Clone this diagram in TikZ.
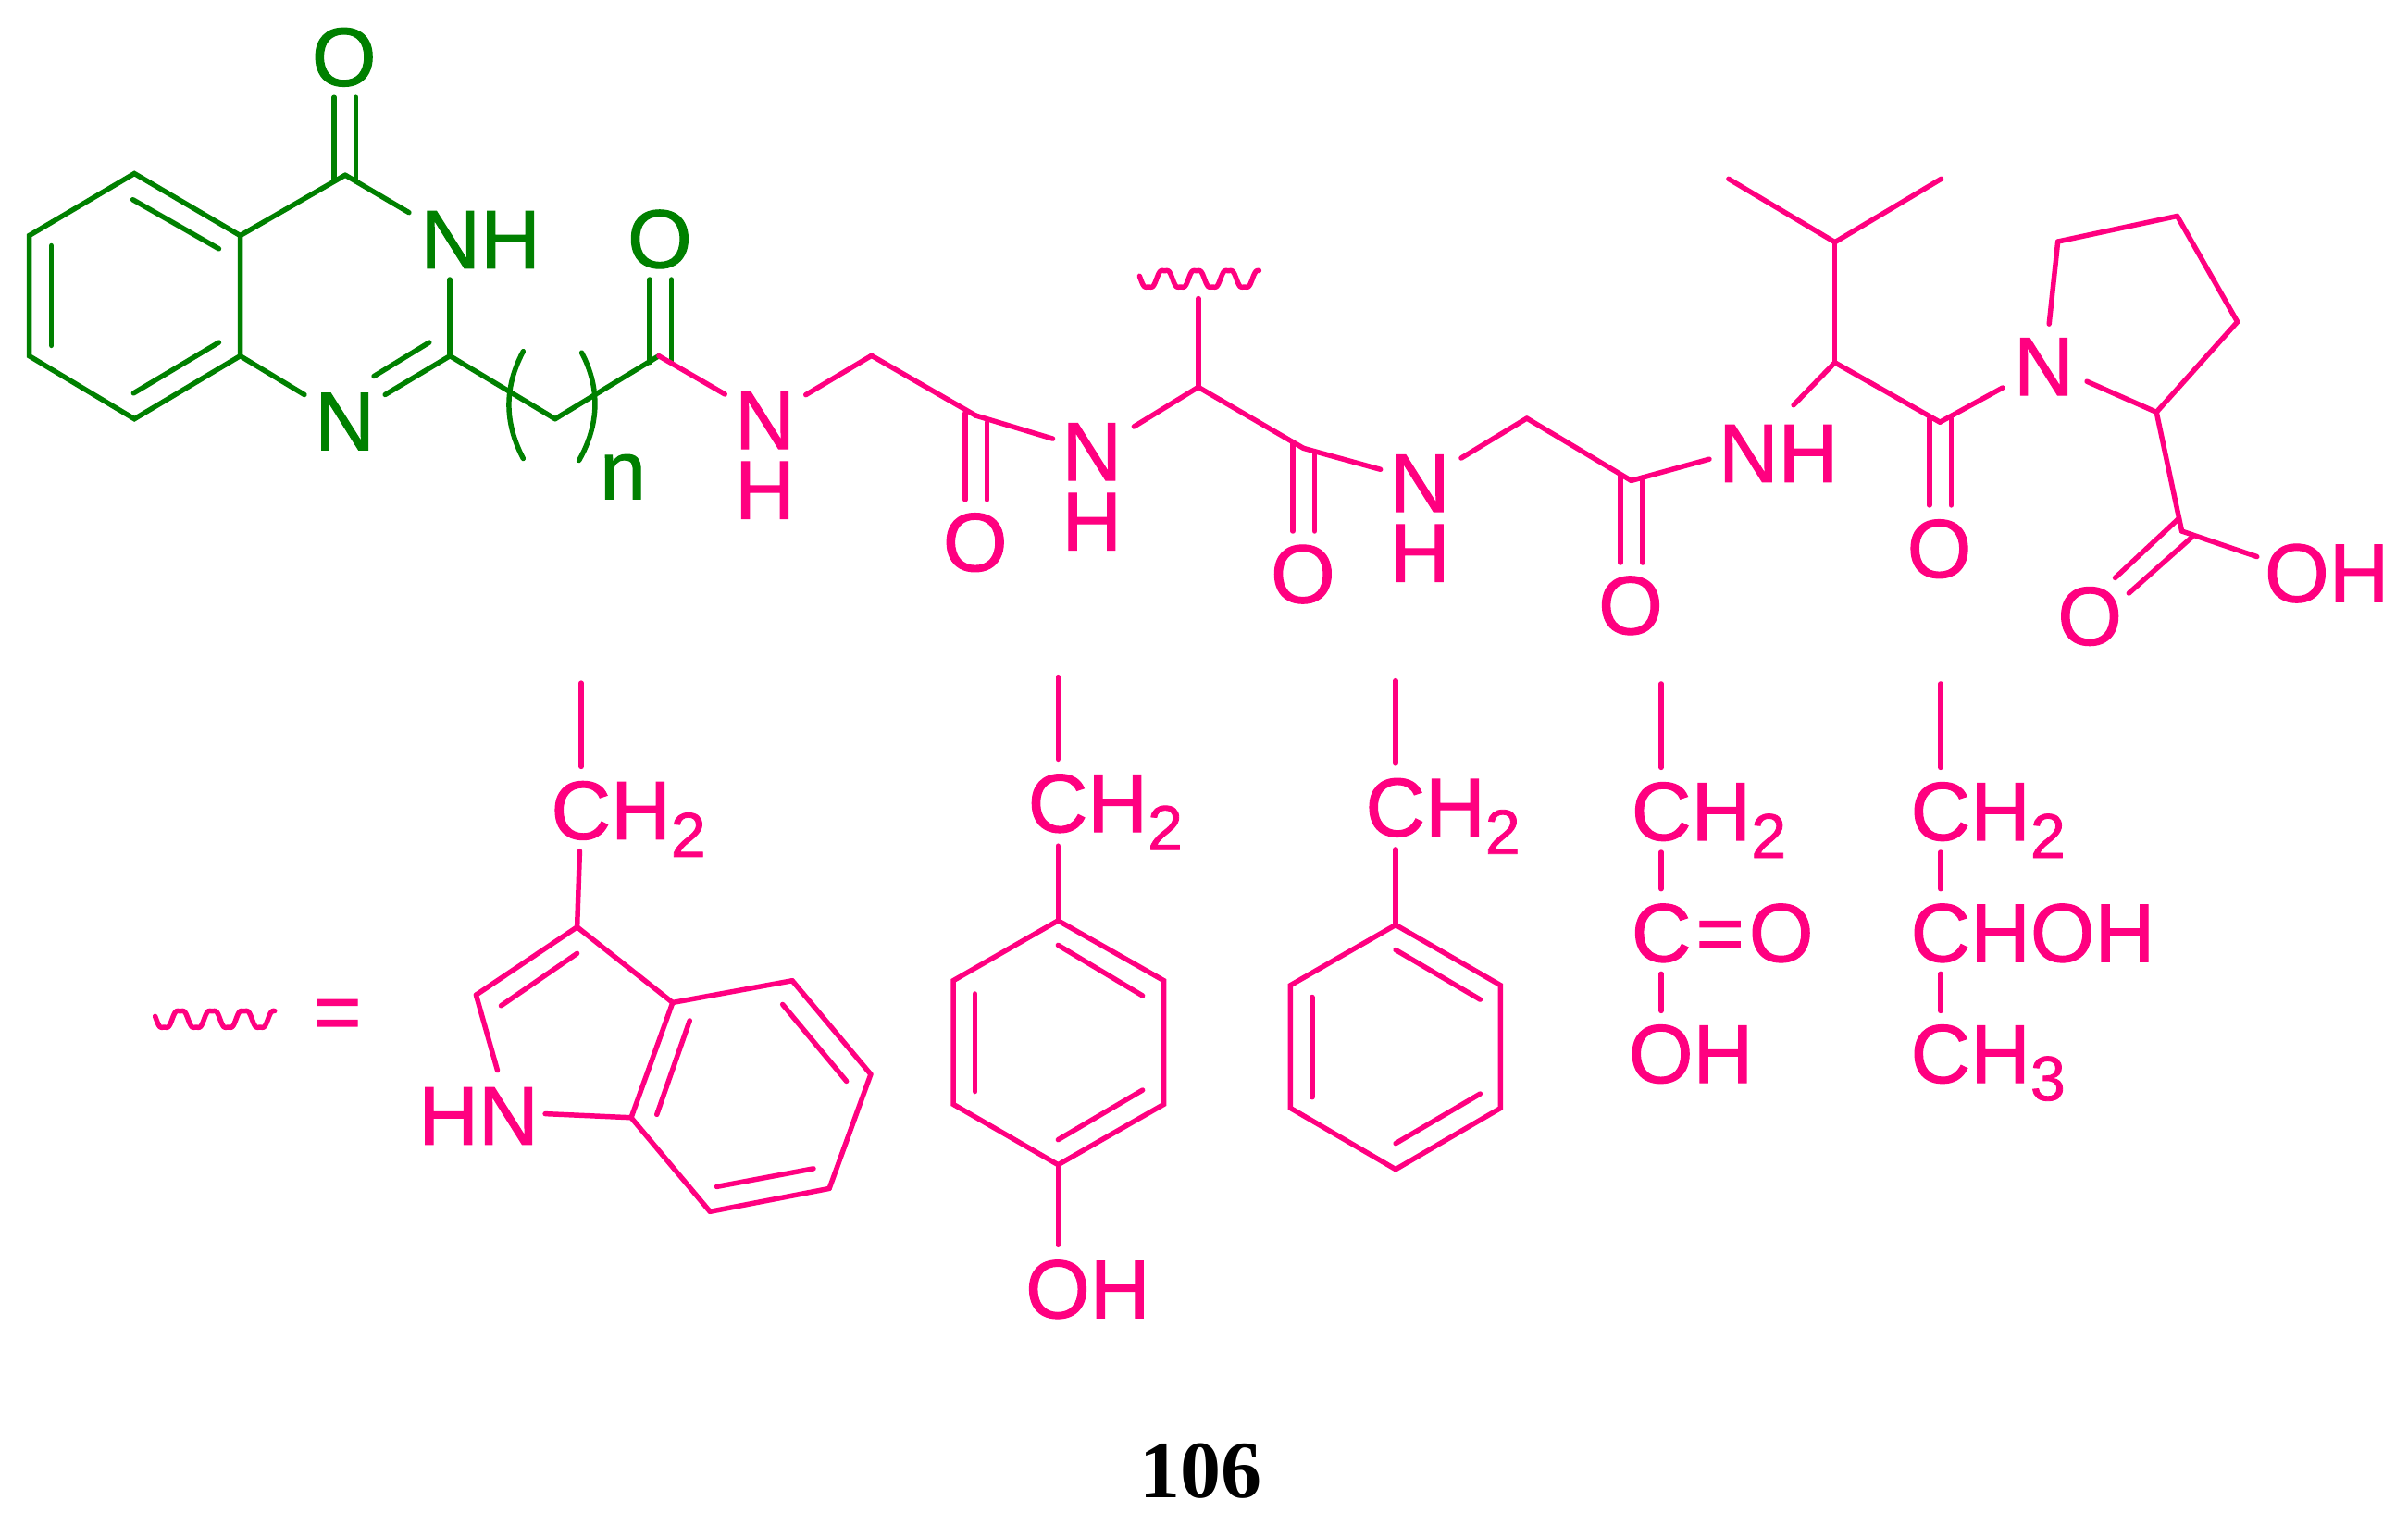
\documentclass[tikz,border=0pt]{standalone}
\usepackage{fontspec}
\setmainfont[FakeBold=1.2]{Liberation Sans}
\newfontfamily\numfont{Liberation Serif}
\usetikzlibrary{positioning}
\definecolor{chempink}{RGB}{255,0,128}
\definecolor{chemgreen}{RGB}{0,128,0}
\newcommand{\chemsub}[1]{\raisebox{-11.5pt}{\fontsize{41}{41}\selectfont #1}}
\tikzset{
  bond/.style={line width=3.3pt, line cap=round},
  atom/.style={inner sep=0pt, text height=38.7pt, text depth=0pt,
    font=\fontsize{54}{54}\selectfont},
  stacked/.style={inner sep=0pt, align=center, text=chempink,
    font=\fontsize{54}{45.5}\selectfont},
  squiggle/.pic={
    \draw[bond, chempink] plot[domain=0:77.8, samples=180, smooth]
      ({\x},{6.2*(cos(17.3077*(\x-5.9))-0.15*cos(51.923*(\x-5.9)))});
  }
}

\begin{document}
\begin{tikzpicture}[x=1pt, y=-1pt]
  \useasboundingbox (0,0) rectangle (1568,993);
  \foreach \n/\x/\y in {
    q1/87.5/113, q2/156.4/153.4, q3/156.4/231.8, q4/87.5/272.8, q5/19/231.8, q6/19/153.4,
    qa/86.5/130, qb/142.5/162, qc/33.5/160, qd/33.5/225, qe/142.5/223, qf/87/256,
    c4/224.8/114, oa/217.6/63.4, oaa/217.6/118, ob/231.8/63.4, obb/231.8/118,
    nha/266.3/138.4, nhb/293/182, c2/293/231.8, na/198.2/257, nb/250.8/257,
    nc/279.5/223, nd/243.5/245, ch/361.5/272.8, ca/429/231.8,
    ya/423/182, yaa/423/236, yb/437.2/182, ybb/437.2/236,
    pa/340.7/228.8, paa/328.3/252, pab/328.3/275, pb/340.7/298.6,
    ra/378.8/229.7, raa/390.6/252, rab/390.6/276, rb/377/299.8
  } \coordinate (\n) at (\x,\y);
  \foreach \n/\x/\y in {
    e1/472/256.7, e2/524.7/257.1, g1/567.5/231.6, ca2/635.3/270.6,
    za/628.4/269, zaa/628.4/325.4, zb/642.6/275, zbb/642.6/325.4, e3/685.5/285.7,
    e4/738.4/277.8, cb/780.3/252.1, cbt/780.3/194.4, ca3/848.8/291.9,
    wa/841.8/289, waa/841.8/345.9, wb/856/295, wbb/856/345.9, e5/898.9/305.7,
    e6/951.5/298.3, g2/994.2/272.4, ca4/1062.2/313,
    va/1055.3/309.5, vaa/1055.3/366.4, vb/1069.5/311, vbb/1069.5/366.4, e7/1113/299,
    e8/1167.9/263.8, cv/1194.8/236.1, ip/1194.8/157.7, me1/1125.6/116.5, me2/1264/116.5,
    ca5/1263.2/274.9, ua/1256.3/272.6, uaa/1256.3/329, ub/1270.5/272.6, ubb/1270.5/329,
    e9/1304/252.5, e10/1334.3/211, pr1/1340/157.3, pr2/1417.7/140.7, pr3/1456.9/209.6,
    pr4/1404.2/268.4, e11/1358.9/248.4, cx/1420.7/345.9, e12/1469.6/362.5,
    xa/1418.8/337.6, xaa/1377.3/376.3, xb/1427.3/349.8, xbb/1386.2/386.3
  } \coordinate (\n) at (\x,\y);
  \foreach \n/\x/\y in {
    t1/378.5/444.8, t2/378.5/499.2, t3/377.5/554.2, i1/375.8/603.7, i2/310/647.9,
    i3/323.9/697, i4/438/652.9, i5/515.9/638.6, i6/567/699.6, i7/540/774,
    i8/462.3/789, i9/411/727.8, i10/355/725.3,
    ia/375.8/620.9, ib/326.3/654.9, ic/449.1/664.6, id/427.7/725.8,
    ie/509.6/654.1, if/551.2/704.1, ig/529.7/761, ih/466.7/772.8,
    h1/689/440.9, h2/689/494.4, h3/689/550.9, y1/689/599.5, y2/757.9/638.6,
    y3/757.9/719.1, y4/689/758.5, y5/620.7/719.1, y6/620.7/638.6, h4/689/810.7,
    yc/689/615.5, yd/744/648.4, ye/634.9/647.2, yf/634.9/710.8, yg/744/709.9, yh/689/742.2,
    f1/908.8/443.3, f2/908.8/497.1, f3/908.8/553.1, b1/908.8/602.3, b2/977.1/641.6,
    b3/977.1/721.6, b4/908.8/761.5, b5/840.3/721.6, b6/840.3/641.6,
    bc/908.8/618.6, bd/963.8/650.9, be/854.4/649.3, bf/854.4/714.5, bg/963.8/712.3, bh/908.8/744.6,
    k1/1081.7/445.3, k2/1081.7/499.8, k3/1081.7/555, k4/1081.7/578.9, k5/1081.7/634.2, k6/1081.7/658.3,
    m1/1263.6/445.3, m2/1263.6/499.8, m3/1263.6/555, m4/1263.6/578.9, m5/1263.6/634.2, m6/1263.6/658.3
  } \coordinate (\n) at (\x,\y);

  \begin{scope}[every node/.style={atom, text=chemgreen}]
    \node (o4) at (224,36.5) {O};
    \node[anchor=west] (nh3) at (273.7,155.3) {NH};
    \node (n1) at (224.5,273.7) {N};
    \node (o5) at (429.6,155) {O};
    \node (nidx) at (405.6,305.6) {n};
  \end{scope}
  \draw[bond, chemgreen] (q1) -- (q2) -- (q3) -- (q4) -- (q5) -- (q6) -- cycle;
  \foreach \a/\b in {qa/qb, qc/qd, qe/qf, q2/c4, c4/nha, nhb/c2, q3/na, c2/nb, nc/nd,
    oa/oaa, ob/obb, c2/ch, ch/ca, ya/yaa, yb/ybb}
    \draw[bond, chemgreen] (\a) -- (\b);
  \draw[bond, chemgreen] (pa) .. controls (paa) and (pab) .. (pb);
  \draw[bond, chemgreen] (ra) .. controls (raa) and (rab) .. (rb);

  \node[stacked] (nh2) at (498,296.5) {N\\H};
  \node[stacked] (nh4) at (711,317) {N\\H};
  \node[stacked] (nh6) at (924.5,337.4) {N\\H};
  \begin{scope}[every node/.style={atom, text=chempink}]
    \node (o6) at (635,352.5) {O};
    \node (o7) at (848.4,373.2) {O};
    \node (o8) at (1061.8,393.6) {O};
    \node[anchor=west] (nh5) at (1118.8,294.5) {NH};
    \node (o9) at (1262.8,356.7) {O};
    \node (n6) at (1330.8,238) {N};
    \node (o10) at (1360.8,400.6) {O};
    \node[anchor=west] (oh1) at (1474.4,372.6) {OH};
    \node[anchor=west] (ch2a) at (358.6,527.1) {CH\chemsub{2}};
    \node[anchor=west] (hn) at (272.4,726) {HN};
    \node (eq) at (219.6,658) {=};
    \node[anchor=west] (ch2b) at (669.1,522.5) {CH\chemsub{2}};
    \node[anchor=west] (oh2) at (667.6,838.9) {OH};
    \node[anchor=west] (ch2c) at (888.9,525.2) {CH\chemsub{2}};
    \node[anchor=west] (ch2d) at (1062.1,527.8) {CH\chemsub{2}};
    \node[anchor=west] (coh) at (1062.1,606.9) {C\kern3pt=\kern3pt O};
    \node[anchor=west] (oh3) at (1060.3,685.7) {OH};
    \node[anchor=west] (ch2e) at (1243.9,527.8) {CH\chemsub{2}};
    \node[anchor=west] (choh) at (1243.9,606.9) {CHOH};
    \node[anchor=west] (ch3) at (1243.9,685.7) {CH\chemsub{3}};
  \end{scope}
  \foreach \a/\b in {ca/e1, e2/g1, g1/ca2, za/zaa, zb/zbb, ca2/e3, e4/cb, cb/cbt, cb/ca3,
    wa/waa, wb/wbb, ca3/e5, e6/g2, g2/ca4, va/vaa, vb/vbb, ca4/e7, e8/cv, cv/ip, ip/me1, ip/me2,
    cv/ca5, ua/uaa, ub/ubb, ca5/e9, e10/pr1, pr1/pr2, pr2/pr3, pr3/pr4, pr4/e11, pr4/cx,
    cx/e12, xa/xaa, xb/xbb}
    \draw[bond, chempink] (\a) -- (\b);
  \foreach \a/\b in {t1/t2, t3/i1, i1/i2, i2/i3, i1/i4, i4/i5, i5/i6, i6/i7, i7/i8, i8/i9, i9/i4, i9/i10,
    ia/ib, ic/id, ie/if, ig/ih, h1/h2, h3/y1, y4/h4, yc/yd, ye/yf, yg/yh,
    f1/f2, f3/b1, bc/bd, be/bf, bg/bh, k1/k2, k3/k4, k5/k6, m1/m2, m3/m4, m5/m6}
    \draw[bond, chempink] (\a) -- (\b);
  \draw[bond, chempink] (y1) -- (y2) -- (y3) -- (y4) -- (y5) -- (y6) -- cycle;
  \draw[bond, chempink] (b1) -- (b2) -- (b3) -- (b4) -- (b5) -- (b6) -- cycle;
  \pic (rgroup) at (742,181.6) {squiggle};
  \pic (rkey) at (101,663.7) {squiggle};

  \node[inner sep=0pt, font=\fontsize{53}{53}\selectfont\numfont\bfseries] (label) at (782,958) {106};
\end{tikzpicture}
\end{document}
